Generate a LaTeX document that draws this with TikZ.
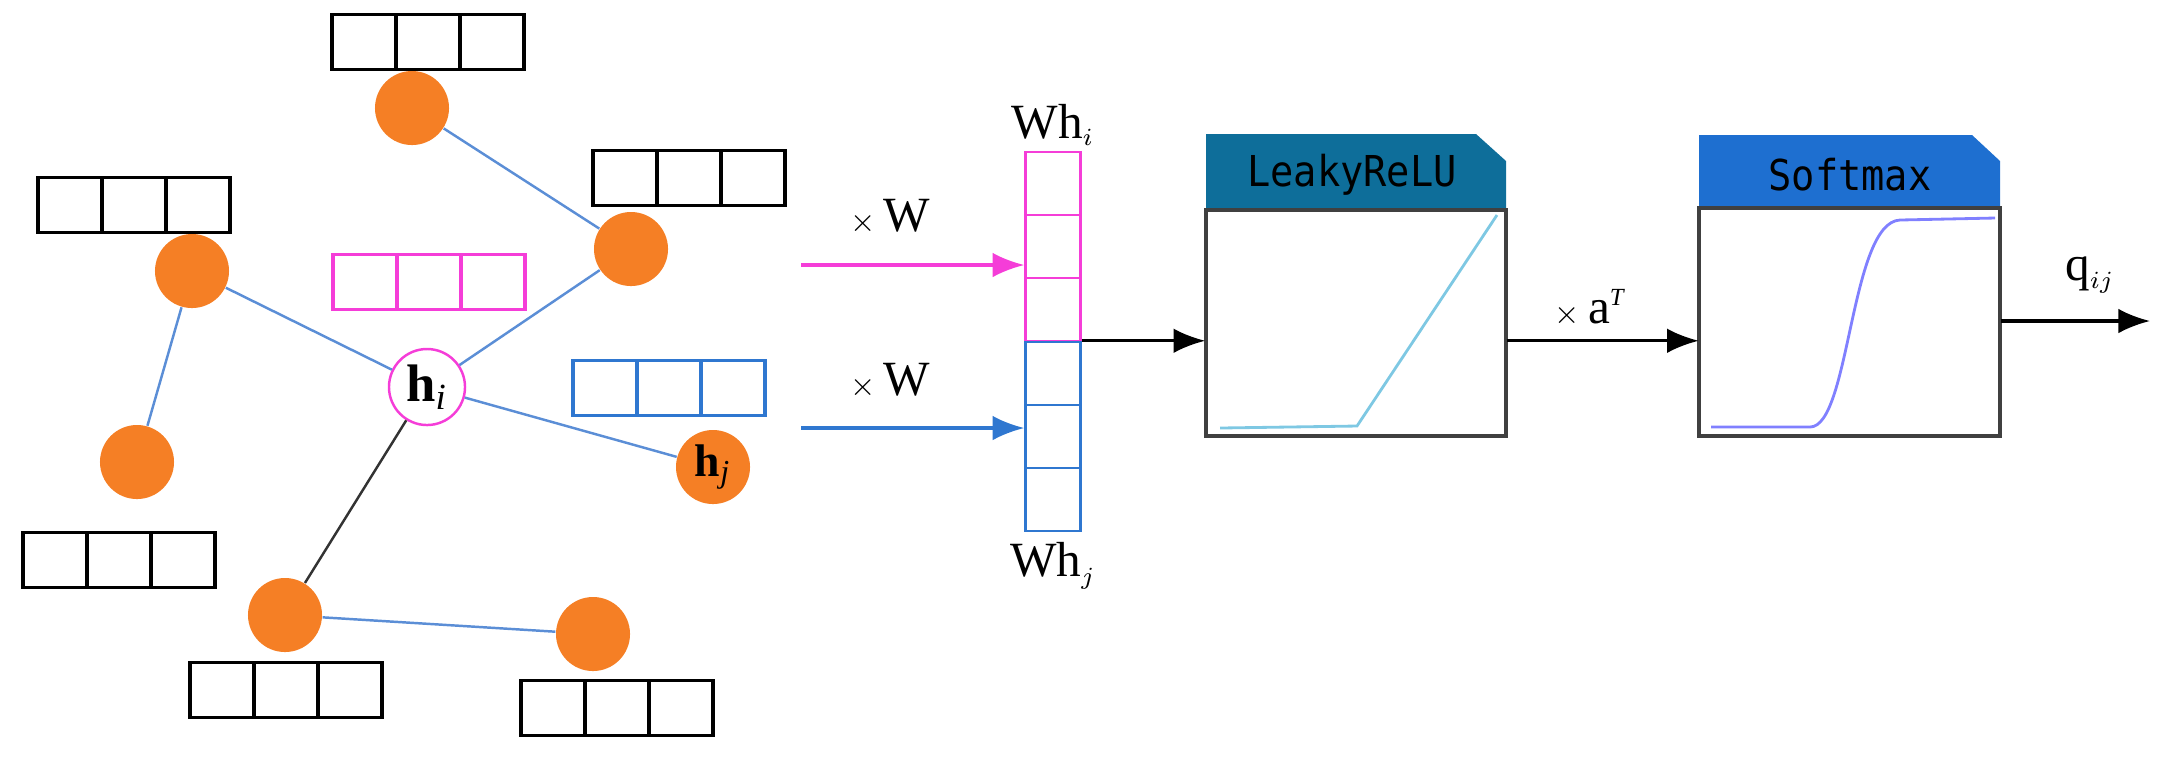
\documentclass[tikz,border=0pt]{standalone}
\usepackage{fontspec}
\setmainfont{Liberation Serif}
\newfontfamily\monof{DejaVu Sans Mono}
\usetikzlibrary{arrows.meta}
\begin{document}
\begin{tikzpicture}[x=0.01cm,y=-0.01cm,
  nd/.style={circle,fill=orng,minimum size=74*0.2845pt,inner sep=0,font=\fontsize{13}{13}\selectfont\bfseries},
  ed/.style={edgeb,line width=0.7pt},
  cell/.style={draw,line width=0.9pt,minimum width=64*0.2845pt,minimum height=55*0.2845pt,inner sep=0},
  vcell/.style={draw,line width=0.7pt,minimum width=55*0.2845pt,minimum height=63*0.2845pt,inner sep=0},
  arr/.style={-{Latex[length=9pt,width=7pt]},line width=0.9pt},
  lab/.style={font=\fontsize{14}{14}\selectfont}]
\definecolor{orng}{HTML}{F57F25}
\definecolor{edgeb}{HTML}{5B8ED6}
\definecolor{pink}{HTML}{F53DD8}
\definecolor{bluec}{HTML}{2F77D0}
\definecolor{hdrA}{HTML}{0E6E9A}
\definecolor{hdrB}{HTML}{1E6FD0}
\useasboundingbox (0,0) rectangle (2170,756);
\newcommand{\trip}[4]{% name, x-left, y-center, color
  \foreach \k in {0,1,2}{\node[cell,draw=#4] (#1\k) at ({#2+32+64*\k},#3) {};}}
\trip{b1}{332}{42}{black}
\trip{b2}{593}{178}{black}
\trip{b3}{38}{205}{black}
\trip{bp}{333}{282}{pink}
\trip{bb}{573}{388}{bluec}
\trip{b4}{23}{560}{black}
\trip{b5}{190}{690}{black}
\trip{b6}{521}{708}{black}
\node[nd] (n1) at (412,108) {};
\node[nd] (n2) at (631,249) {};
\node[nd] (n3) at (192,271) {};
\node[nd] (n4) at (137,462) {};
\node[nd] (hj) at (713,467) {h$_{\mathit{j}}$};
\node[nd] (n5) at (285,615) {};
\node[nd] (n6) at (593,634) {};
\node[circle,draw=pink,fill=white,line width=0.7pt,minimum size=76*0.2845pt,inner sep=0,font=\fontsize{15}{15}\selectfont\bfseries] (hi) at (427,387) {h$_{\mathit{i}}$};
\draw[ed] (n1)--(n2); \draw[ed] (n2)--(hi); \draw[ed] (n3)--(hi);
\draw[ed] (n3)--(n4); \draw[ed] (hi)--(hj); \draw[ed] (n5)--(n6);
\draw[line width=0.7pt,black!80] (hi)--(n5);
% column
\foreach \k in {0,1,2}{\node[vcell,draw=pink] (p\k) at (1053,{152+31.5+63*\k}) {};}
\foreach \k in {0,1,2}{\node[vcell,draw=bluec] (q\k) at (1053,{342+31.5+63*\k}) {};}
\node[lab,anchor=south,inner sep=1pt] (whi) at (1053,150) {Wh$_{\scriptscriptstyle i}$};
\node[lab,anchor=north,inner sep=1pt] (whj) at (1053,538) {Wh$_{\scriptscriptstyle j}$};
\coordinate (sp) at (801,265); \coordinate (sb) at (801,428);
\draw[arr,pink] (sp) -- (p1.west|-sp);
\draw[arr,bluec] (sb) -- (q1.west|-sb);
\node[lab] (xw1) at (890,217) {{\fontsize{9}{9}\selectfont$\times$}\,W};
\node[lab] (xw2) at (890,381) {{\fontsize{9}{9}\selectfont$\times$}\,W};
% LeakyReLU
\fill[hdrA] (1206,210) -- (1206,134) -- (1476,134) -- (1506,161) -- (1506,210) -- cycle;
\node[font=\monof\fontsize{11}{11}\selectfont,yscale=1.1] (lr) at (1352,175) {LeakyReLU};
\draw[line width=0.9pt,black!75] (1206,210) rectangle (1506,436);
\node[minimum width=300*0.2845pt,minimum height=226*0.2845pt,inner sep=0] (lbox) at (1356,323) {};
\draw[line width=0.8pt,color={rgb,255:red,126;green,200;blue,227}] (1220,428) -- (1357,426) -- (1497,215);
% Softmax
\fill[hdrB] (1699,208) -- (1699,135) -- (1972,135) -- (2000,161) -- (2000,208) -- cycle;
\node[font=\monof\fontsize{11}{11}\selectfont,yscale=1.1] (sm) at (1850,175) {Softmax};
\draw[line width=0.9pt,black!75] (1699,208) rectangle (2000,436);
\node[minimum width=301*0.2845pt,minimum height=228*0.2845pt,inner sep=0] (sbox) at (1850,322) {};
\draw[line width=0.8pt,color={rgb,255:red,128;green,128;blue,255}] (1711,427) -- (1810,427) .. controls (1850,427) and (1850,222) .. (1900,220) -- (1995,218);
% arrows
\draw[arr] (q0.north east) -- (lbox.west|-q0.north east);
\draw[arr] (lbox.east|-q0.north east) -- (sbox.west|-q0.north east);
\node[lab] (xa) at (1590,308) {{\fontsize{9}{9}\selectfont$\times$}\,a$^{\mathit{\scriptscriptstyle T}}$};
\coordinate (qe) at (2150,321);
\draw[arr] (sbox.east|-qe) -- (qe);
\node[lab] (q) at (2090,275) {q$_{\scriptscriptstyle ij}$};
\end{tikzpicture}
\end{document}
